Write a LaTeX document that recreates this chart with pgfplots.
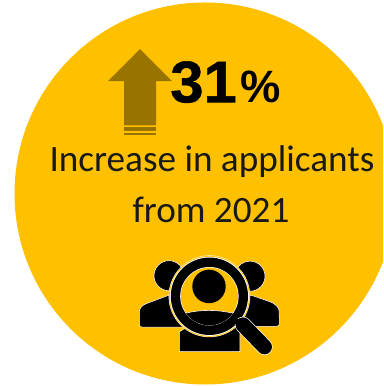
\documentclass[border=0pt]{standalone}
\usepackage{pgfplots}
\pgfplotsset{compat=1.18}
\usepackage{fontspec}
\setmainfont{Carlito}
\newfontfamily\headfont[FakeBold=0.9]{Liberation Sans Bold}
\definecolor{disc}{HTML}{FFC000}
\definecolor{arrow}{HTML}{997300}
\begin{document}
\begin{tikzpicture}
\useasboundingbox (0,0) rectangle (287.25pt,289.5pt);
\begin{axis}[
  at={(0,0)}, anchor=south west,
  width=287.25pt, height=289.5pt, scale only axis,
  xmin=0, xmax=383, ymin=0, ymax=386, y dir=reverse,
  hide axis, clip=true,
]
% background disc
\fill[disc] (axis cs:205,194) circle[radius=190.5];

% up arrow with two stripes at its foot
\addplot[fill=arrow, draw=none] coordinates {(140,50) (172,82) (156,82) (156,126) (124,126) (124,82) (108,82)} --cycle;
\addplot[fill=arrow, draw=none] coordinates {(124,127.5) (156,127.5) (156,132) (124,132)} --cycle;
\addplot[fill=arrow, draw=none] coordinates {(124,134) (156,134) (156,136) (124,136)} --cycle;

% headline figure
\node[anchor=base west, inner sep=0pt] at (axis cs:170,103) {\scalebox{1.02}[1]{\headfont\fontsize{44}{44}\selectfont 31}};
\node[anchor=base west, inner sep=0pt] at (axis cs:240.5,103) {\fontspec{Liberation Sans Bold}\fontsize{34}{34}\selectfont\%};

% caption
\node[anchor=base, inner sep=0pt, text=black!90] at (axis cs:212,172) {\fontsize{27.9}{27.9}\selectfont Increase in applicants};
\node[anchor=base, inner sep=0pt, text=black!90] at (axis cs:211,223) {\fontsize{27.9}{27.9}\selectfont from 2021};

% people behind the magnifier
\begin{scope}[draw=white, line width=0.4pt, fill=black]
  \filldraw (axis cs:169,276) circle[radius=15];
  \filldraw (axis cs:250,276.5) circle[radius=15];
  \filldraw[rounded corners=2pt] (axis cs:139.3,327.3) -- (axis cs:139.3,309.3) -- (axis cs:143.3,305) -- (axis cs:170,295) -- (axis cs:185,327.3) -- cycle;
  \filldraw[rounded corners=2pt] (axis cs:279.5,326.5) -- (axis cs:279,308.3) -- (axis cs:273,303) -- (axis cs:250,295) -- (axis cs:235,326.5) -- cycle;
  \filldraw (axis cs:179.3,351.7) -- (axis cs:179.3,332) -- (axis cs:184,329) -- (axis cs:240,325) -- (axis cs:240,351.7) -- cycle;
\end{scope}

% magnifier: halo, ring and lens
\fill[white] (axis cs:209.4,296.5) circle[radius=40.8];
\fill[disc] (axis cs:209.4,296.5) circle[radius=40.4];
\fill[white] (axis cs:209.4,296.5) circle[radius=39.5];
\fill[black] (axis cs:209.4,296.5) circle[radius=38.6];
\fill[white] (axis cs:209.4,296.5) circle[radius=29.2];
\fill[disc] (axis cs:209.4,296.5) circle[radius=28.6];

% figure inside the lens
\fill[black] (axis cs:209,286.7) circle[radius=16.7];
\begin{scope}
  \clip (axis cs:209.4,296.5) circle[radius=29];
  \draw[white, line width=0.4pt, fill=black] (axis cs:175,317) .. controls (axis cs:195,308.5) and (axis cs:222,308.5) .. (axis cs:245,317) -- (axis cs:245,340) -- (axis cs:175,340) -- cycle;
\end{scope}

% handle
\draw[white, line width=12.2pt, line cap=round] (axis cs:243,325) -- (axis cs:264.5,347);
\draw[black, line width=11.2pt, line cap=round] (axis cs:243,325) -- (axis cs:264.5,347);
\draw[black, line width=4pt] (axis cs:232,319) -- (axis cs:245,327);
\end{axis}
\end{tikzpicture}
\end{document}
